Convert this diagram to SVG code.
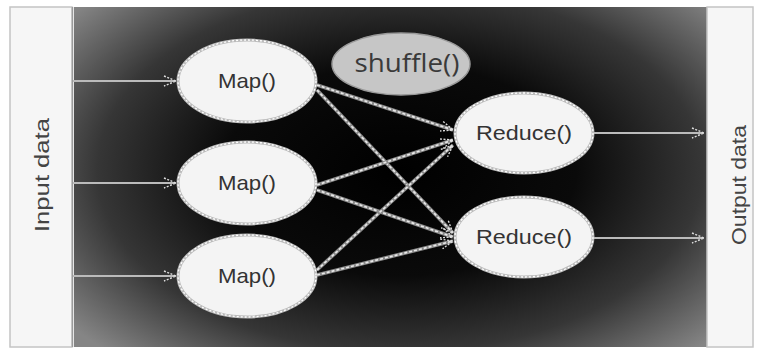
<svg xmlns="http://www.w3.org/2000/svg" width="757" height="354" viewBox="0 0 757 354">
  <defs>
    <radialGradient id="bg" cx="400" cy="170" r="420" gradientUnits="userSpaceOnUse" gradientTransform="translate(400 170) scale(1 0.6) translate(-400 -170)">
      <stop offset="0" stop-color="#000"/>
      <stop offset="0.42" stop-color="#0a0a0a"/>
      <stop offset="0.72" stop-color="#363636"/>
      <stop offset="1" stop-color="#858585"/>
    </radialGradient>
    <marker id="head" viewBox="0 0 14 12" refX="13" refY="6" markerWidth="14" markerHeight="12" markerUnits="userSpaceOnUse" orient="auto">
      <path d="M1,1 L13,6 L1,11" fill="none" stroke="#ddd" stroke-width="1.4" stroke-dasharray="2 1.5"/>
    </marker>
  </defs>
  <style>
    .panel { fill: #f6f6f6; stroke: #c4c4c4; stroke-width: 1.5; }
    .side { font-family: "Liberation Sans", Arial, sans-serif; font-size: 20px; fill: #444; text-anchor: middle; }
    .node { fill: #f4f4f4; stroke: #bbb; stroke-width: 3; }
    .node-dots { fill: none; stroke: #fff; stroke-width: 1.3; stroke-dasharray: 2 2; }
    .label { font-family: "Liberation Sans", Arial, sans-serif; font-size: 21px; fill: #333; text-anchor: middle; }
    .shuffle { fill: #c6c6c6; stroke: #999; stroke-width: 1.5; }
    .shuffle-text { font-family: "Open Sans", "DejaVu Sans", sans-serif; font-size: 25px; fill: #3a3a3a; text-anchor: middle; }
    .feed { stroke: #bbb; stroke-width: 2.2; fill: none; }
    .link-base { stroke: #8a8a8a; stroke-width: 3.6; fill: none; }
    .link-dash { stroke: #e8e8e8; stroke-width: 1.7; fill: none; stroke-dasharray: 3 2; }
  </style>

  <!-- page -->
  <rect x="0" y="0" width="757" height="354" fill="#fff"/>
  <rect x="10" y="7" width="62" height="340" class="panel"/>
  <rect x="74" y="7" width="633" height="340" fill="url(#bg)"/>
  <line x1="72.5" y1="7" x2="72.5" y2="347" stroke="#9a9a9a" stroke-width="1.5"/>
  <rect x="707" y="7" width="46" height="340" class="panel"/>

  <g id="input-data">
    <text class="side" transform="translate(49 175) rotate(-90)" textLength="114" lengthAdjust="spacingAndGlyphs">Input data</text>
  </g>
  <g id="output-data">
    <text class="side" transform="translate(746 185) rotate(-90)" textLength="120" lengthAdjust="spacingAndGlyphs">Output data</text>
  </g>

  <g id="connectors">
    <!-- input feeds -->
    <line class="feed" x1="73" y1="81" x2="176" y2="81" marker-end="url(#head)"/>
    <line class="feed" x1="73" y1="183" x2="176" y2="183" marker-end="url(#head)"/>
    <line class="feed" x1="73" y1="276" x2="176" y2="276" marker-end="url(#head)"/>
    <!-- map to reduce -->
    <g>
      <line class="link-base" x1="317" y1="85" x2="453" y2="130"/>
      <line class="link-dash" x1="317" y1="85" x2="453" y2="130" marker-end="url(#head)"/>
      <line class="link-base" x1="317" y1="90" x2="453" y2="233"/>
      <line class="link-dash" x1="317" y1="90" x2="453" y2="233" marker-end="url(#head)"/>
      <line class="link-base" x1="317" y1="185" x2="453" y2="140"/>
      <line class="link-dash" x1="317" y1="185" x2="453" y2="140" marker-end="url(#head)"/>
      <line class="link-base" x1="317" y1="190" x2="453" y2="237"/>
      <line class="link-dash" x1="317" y1="190" x2="453" y2="237" marker-end="url(#head)"/>
      <line class="link-base" x1="317" y1="270" x2="453" y2="145"/>
      <line class="link-dash" x1="317" y1="270" x2="453" y2="145" marker-end="url(#head)"/>
      <line class="link-base" x1="317" y1="275" x2="453" y2="241"/>
      <line class="link-dash" x1="317" y1="275" x2="453" y2="241" marker-end="url(#head)"/>
    </g>
    <!-- output feeds -->
    <line class="feed" x1="593" y1="133" x2="704" y2="133" marker-end="url(#head)"/>
    <line class="feed" x1="593" y1="238" x2="704" y2="238" marker-end="url(#head)"/>
  </g>

  <g id="map1">
    <ellipse class="node" cx="247" cy="81" rx="69" ry="41"/>
    <ellipse class="node-dots" cx="247" cy="81" rx="69" ry="41"/>
    <text class="label" x="247" y="88" textLength="58" lengthAdjust="spacingAndGlyphs">Map()</text>
  </g>
  <g id="map2">
    <ellipse class="node" cx="247" cy="183" rx="69" ry="41"/>
    <ellipse class="node-dots" cx="247" cy="183" rx="69" ry="41"/>
    <text class="label" x="247" y="190" textLength="58" lengthAdjust="spacingAndGlyphs">Map()</text>
  </g>
  <g id="map3">
    <ellipse class="node" cx="247" cy="276" rx="69" ry="41"/>
    <ellipse class="node-dots" cx="247" cy="276" rx="69" ry="41"/>
    <text class="label" x="247" y="283" textLength="58" lengthAdjust="spacingAndGlyphs">Map()</text>
  </g>
  <g id="reduce1">
    <ellipse class="node" cx="524" cy="133" rx="69" ry="40"/>
    <ellipse class="node-dots" cx="524" cy="133" rx="69" ry="40"/>
    <text class="label" x="524" y="140" textLength="96" lengthAdjust="spacingAndGlyphs">Reduce()</text>
  </g>
  <g id="reduce2">
    <ellipse class="node" cx="524" cy="237" rx="69" ry="40"/>
    <ellipse class="node-dots" cx="524" cy="237" rx="69" ry="40"/>
    <text class="label" x="524" y="244" textLength="96" lengthAdjust="spacingAndGlyphs">Reduce()</text>
  </g>
  <g id="shuffle">
    <ellipse class="shuffle" cx="401" cy="64" rx="69" ry="31"/>
    <text class="shuffle-text" x="407" y="72" textLength="105" lengthAdjust="spacingAndGlyphs">shuffle()</text>
  </g>
</svg>
